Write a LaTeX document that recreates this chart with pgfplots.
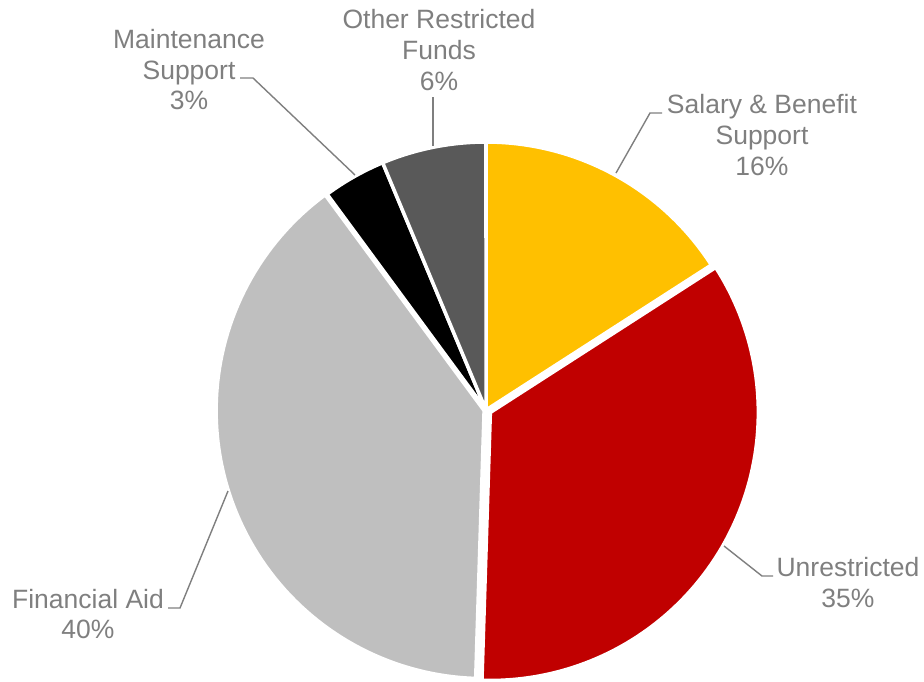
\documentclass[border=0pt]{standalone}
\usepackage{fontspec}
\setmainfont{Liberation Sans}
\usepackage{pgfplots}
\pgfplotsset{compat=1.18}

\definecolor{cSal}{HTML}{FFC000}
\definecolor{cUnr}{HTML}{C00000}
\definecolor{cFin}{HTML}{BFBFBF}
\definecolor{cMai}{HTML}{000000}
\definecolor{cOth}{HTML}{595959}
\definecolor{lbl}{HTML}{7F7F7F}

% shares in percent, clockwise from 12 o'clock
\def\vSal{15.9}
\def\vUnr{34.6}
\def\vFin{39.4}
\def\vMai{3.8}
\def\vOth{6.3}

% pie centre and radius (picture units = px)
\def\cx{486}
\def\cy{410}
\def\R{268}

\pgfmathsetmacro\aA{0}
\pgfmathsetmacro\aB{\aA+3.6*\vSal}
\pgfmathsetmacro\aC{\aB+3.6*\vUnr}
\pgfmathsetmacro\aD{\aC+3.6*\vFin}
\pgfmathsetmacro\aE{\aD+3.6*\vMai}
\pgfmathsetmacro\aF{\aE+3.6*\vOth}

% small explosion of the red and light grey slices
\pgfmathsetmacro\uxU{\cx+5*sin((\aB+\aC)/2)}
\pgfmathsetmacro\uyU{\cy-5*cos((\aB+\aC)/2)}
\pgfmathsetmacro\fxF{\cx+2*sin((\aC+\aD)/2)}
\pgfmathsetmacro\fyF{\cy-2*cos((\aC+\aD)/2)}

\begin{document}
\begin{tikzpicture}
\begin{axis}[
  name=pie,
  x=1pt, y=1pt,
  scale only axis,
  xmin=0, xmax=924, ymin=0, ymax=681,
  y dir=reverse,
  hide axis,
  clip=false,
  samples=90,
  slice/.style={draw=white, line width=3.5pt, line join=round},
  lead/.style={draw=lbl, line width=1.4pt},
  ]

\addplot[slice, fill=cSal, domain=\aA:\aB] ({\cx+\R*sin(x)}, {\cy-\R*cos(x)}) -- (\cx,\cy) -- cycle;
\addplot[slice, fill=cUnr, domain=\aB:\aC] ({\uxU+\R*sin(x)}, {\uyU-\R*cos(x)}) -- (\uxU,\uyU) -- cycle;
\addplot[slice, fill=cFin, domain=\aC:\aD] ({\fxF+\R*sin(x)}, {\fyF-\R*cos(x)}) -- (\fxF,\fyF) -- cycle;
\addplot[slice, fill=cMai, domain=\aD:\aE] ({\cx+\R*sin(x)}, {\cy-\R*cos(x)}) -- (\cx,\cy) -- cycle;
\addplot[slice, fill=cOth, domain=\aE:\aF] ({\cx+\R*sin(x)}, {\cy-\R*cos(x)}) -- (\cx,\cy) -- cycle;

% leader lines
\addplot[lead] coordinates {(240,78) (253,78) (355,175)};
\addplot[lead] coordinates {(433,97) (433,146)};
\addplot[lead] coordinates {(662,113) (650,113) (616,173)};
\addplot[lead] coordinates {(773,576) (762,576) (724,546)};
\addplot[lead] coordinates {(168,608) (180,608) (228,491)};

% labels
\begin{scope}[every node/.style={anchor=base, text=lbl, font=\fontsize{26.5}{31}\selectfont, inner sep=0pt}]
\node at (axis cs:189,48) {Maintenance};
\node at (axis cs:189,79) {Support};
\node at (axis cs:189,109) {3\%};

\node at (axis cs:439,28) {Other Restricted};
\node at (axis cs:439,59) {Funds};
\node at (axis cs:439,90) {6\%};

\node at (axis cs:762,113) {Salary \& Benefit};
\node at (axis cs:762,144) {Support};
\node at (axis cs:762,175) {16\%};

\node at (axis cs:848,576) {Unrestricted};
\node at (axis cs:848,607) {35\%};

\node at (axis cs:88,608) {Financial Aid};
\node at (axis cs:88,638) {40\%};
\end{scope}

\end{axis}
\pgfresetboundingbox
\useasboundingbox (pie.south west) rectangle (pie.north east);
\end{tikzpicture}
\end{document}
